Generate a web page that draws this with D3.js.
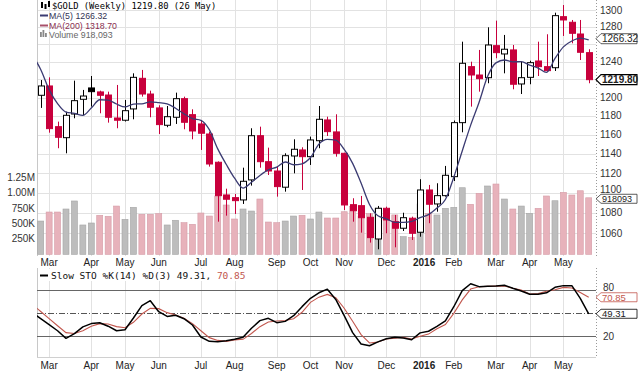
<!DOCTYPE html>
<html><head><meta charset="utf-8">
<script src="https://cdn.jsdelivr.net/npm/d3@7"></script>
<style>body{margin:0;background:#fff}svg{display:block}</style>
</head><body><svg id="c" width="640" height="373"></svg>
<script>
// ---------------- DATA ----------------
const firstWeek = "2015-02-23", lastWeek = "2016-05-23";
const opens  = [1202.5,1212.8,1168.5,1156.8,1182.1,1198.1,1210.6,1206.2,1202.8,1177.8,1175.4,1187.6,1221.3,1203.9,1188.7,1170.0,1178.6,1198.8,1181.4,1171.4,1160.7,1131.1,1097.8,1095.1,1092.8,1113.0,1158.9,1131.7,1122.1,1105.6,1137.6,1143.9,1136.9,1153.6,1175.7,1162.9,1140.4,1088.1,1087.1,1075.6,1054.5,1084.5,1071.3,1064.9,1074.7,1061.0,1102.8,1088.8,1097.1,1116.3,1172.8,1234.4,1225.0,1222.0,1258.3,1248.8,1253.4,1215.0,1222.4,1240.8,1234.4,1233.2,1292.1,1285.5,1271.8,1250.3];
const highs  = [1219.4,1222.4,1173.9,1184.6,1218.7,1208.4,1223.9,1207.6,1206.5,1213.9,1197.4,1226.9,1230.7,1207.6,1191.6,1190.8,1205.4,1201.0,1187.2,1175.7,1163.2,1132.0,1104.1,1098.8,1125.5,1166.8,1168.5,1146.3,1126.6,1140.4,1155.1,1146.7,1157.9,1190.8,1179.2,1181.8,1141.0,1094.5,1096.8,1079.5,1086.8,1086.1,1077.9,1080.1,1076.2,1113.7,1107.9,1109.6,1127.3,1175.1,1262.9,1240.0,1253.4,1279.6,1287.4,1270.7,1259.1,1240.0,1241.1,1262.9,1271.5,1296.8,1305.9,1288.2,1288.2,1254.2];
const lows   = [1188.7,1162.1,1145.7,1140.4,1177.5,1181.0,1190.1,1182.9,1172.8,1166.8,1174.0,1176.4,1201.0,1178.6,1160.7,1167.9,1171.4,1165.7,1155.1,1143.9,1126.6,1071.3,1077.2,1078.9,1088.8,1107.2,1125.5,1118.0,1096.1,1101.1,1119.7,1102.8,1128.3,1145.7,1158.6,1136.9,1082.8,1071.3,1060.6,1051.0,1044.6,1060.0,1046.5,1062.2,1053.5,1056.7,1069.8,1081.1,1096.1,1111.9,1162.5,1190.1,1206.5,1215.8,1243.9,1226.9,1209.1,1203.9,1214.7,1223.9,1228.7,1229.5,1269.5,1261.0,1241.9,1215.8];
const closes = [1212.8,1166.4,1157.2,1180.7,1196.6,1201.7,1206.5,1202.5,1178.6,1175.4,1185.7,1222.4,1203.9,1189.4,1170.7,1179.2,1198.8,1173.2,1163.9,1161.5,1129.3,1097.1,1093.5,1092.1,1111.6,1158.9,1131.7,1122.1,1106.2,1137.9,1144.6,1136.9,1154.4,1176.4,1163.2,1140.4,1087.8,1082.1,1075.2,1055.8,1084.5,1073.0,1064.9,1075.2,1060.0,1102.8,1088.5,1097.1,1117.7,1172.8,1238.2,1225.0,1220.9,1259.1,1250.3,1254.2,1214.7,1222.0,1238.9,1234.4,1229.9,1293.3,1288.2,1272.6,1250.7,1219.8];
const priorCloses = [1294.0,1279.0,1234.0,1227.0,1203.6]; // 5 weeks before the first bar
const volumes = [541,687,687,736,866,477,509,634,618,784,569,763,650,650,660,477,553,514,488,671,622,947,801,574,736,703,898,525,514,541,622,634,574,687,590,590,692,780,620,660,750,720,640,287,277,817,666,639,747,763,1081,812,990,1109,1141,898,736,784,666,747,947,870,1006,963,1032,918]; // thousands
const stochK = [43,35.2,27.2,17.3,23.4,32.3,36.5,37.7,33.1,27.2,28.5,43.8,59.9,66.4,52,45.9,47.3,42.9,34.7,19,13.4,13,14,16,18.6,30.4,40.4,43.4,37.7,39.4,46.8,58.6,69.5,76.7,81.4,68,46.8,24.7,10,7.7,12.7,16.8,18.6,17.7,15.4,24.4,26.5,32.8,40.1,58.5,79.4,88.5,84.7,85.1,85.5,86.5,82.5,79,74.7,74.9,76.6,83.8,86,86,69.5,49.31];
const stochD = [52.3,42.9,33.7,24.7,23.6,27.1,33.1,36.5,35.9,32.6,31.1,38.2,49,56.4,56,50.8,47.6,43.5,36.5,27.2,18.2,14.6,13.4,15.3,16,23.6,32.5,38.6,39.8,40.5,42.8,51.3,64.2,71,74.5,70.2,56.5,39.6,22.1,11.3,12.5,16.4,17.6,18.5,16.5,20,22.8,29.9,35.3,49.8,67.4,81.5,84.6,85,85.4,85.5,82.6,80.3,75.1,75.6,78.7,80.7,83.7,83,77,70.85];
const stochKPrior = 50.7, stochDPrior = 61.6;
const monthTickDates  = ["2015-03-02","2015-04-06","2015-05-04","2015-06-01","2015-07-06","2015-08-03","2015-09-07","2015-10-05","2015-11-02","2015-12-07","2016-01-04","2016-02-01","2016-03-07","2016-04-04","2016-05-02"];
const monthTickLabels = ["Mar","Apr","May","Jun","Jul","Aug","Sep","Oct","Nov","Dec","2016","Feb","Mar","Apr","May"];
const priceTicks = [1060,1080,1100,1120,1140,1160,1180,1200,1220,1240,1260,1280,1300];
const volTicks = [250,500,750,1000,1250];
const volTickLabels = ["250K","500K","750K","1.00M","1.25M"];
const stochLevels = [20,50,80];
const lastClose = 1219.80, lastMA5 = 1266.32, lastVol = 918093, lastK = 49.31, lastD = 70.85;

// ---------------- LAYOUT ----------------
const svg = d3.select("#c");
const plotL = 37, plotR = 596, mainTop = 0, mainBot = 256, lowTop = 268, lowBot = 357;
const RED = "#c8003c", BLK = "#000";
const parse = d3.timeParse("%Y-%m-%d");
const weeks = d3.timeMonday.range(parse(firstWeek), d3.timeDay.offset(parse(lastWeek),1));
const x = d3.scaleTime().domain([weeks[0], weeks[weeks.length-1]]).range([40.7, 588.7]);
const yP = d3.scaleLog().domain([1060,1300]).range([233.28,10]);
const yV = d3.scaleLinear().domain([0,1250]).range([254.4,177.3]);
const yS = d3.scaleLinear().domain([0,100]).range([351.6,274.9]);
const monthDates = monthTickDates.map(parse);

const defs = svg.append("defs");
defs.append("clipPath").attr("id","cm").append("rect").attr("x",plotL).attr("y",mainTop).attr("width",plotR-plotL).attr("height",mainBot-mainTop);
defs.append("clipPath").attr("id","cl").append("rect").attr("x",plotL).attr("y",lowTop).attr("width",plotR-plotL).attr("height",lowBot-lowTop);

// grids main
const gm = svg.append("g");
gm.selectAll("line.h").data(priceTicks).join("line")
  .attr("x1",plotL).attr("x2",plotR).attr("y1",d=>Math.round(yP(d))+0.5).attr("y2",d=>Math.round(yP(d))+0.5)
  .attr("stroke","#e2e2e2");
gm.selectAll("line.v").data(monthDates).join("line")
  .attr("x1",d=>Math.round(x(d))+0.5).attr("x2",d=>Math.round(x(d))+0.5).attr("y1",mainTop).attr("y2",mainBot)
  .attr("stroke","#e2e2e2");
// grids low
const gl = svg.append("g");
gl.selectAll("line").data(monthDates).join("line")
  .attr("x1",d=>Math.round(x(d))+0.5).attr("x2",d=>Math.round(x(d))+0.5).attr("y1",lowTop).attr("y2",lowBot)
  .attr("stroke","#e2e2e2");
// borders
[[mainTop,mainBot],[lowTop,lowBot]].forEach(([t,b])=>{
  svg.append("line").attr("x1",plotL+0.5).attr("x2",plotL+0.5).attr("y1",t).attr("y2",b).attr("stroke","#c8c8c8");
  svg.append("line").attr("x1",plotR+0.5).attr("x2",plotR+0.5).attr("y1",t).attr("y2",b).attr("stroke","#999").attr("stroke-dasharray","1,2");
});
svg.append("line").attr("x1",plotL).attr("x2",plotR).attr("y1",lowBot+0.5).attr("y2",lowBot+0.5).attr("stroke","#d0d0d0");

// candle colours
const prev = i => i===0 ? priorCloses[priorCloses.length-1] : closes[i-1];
const bars = weeks.map((w,i)=>({w,i,o:opens[i],h:highs[i],l:lows[i],c:closes[i],v:volumes[i],
  red: closes[i] < prev(i), filled: closes[i] < opens[i]}));

// volume
const main = svg.append("g").attr("clip-path","url(#cm)");
main.selectAll("rect.vol").data(bars).join("rect")
  .attr("x",d=>x(d.w)-3).attr("width",6)
  .attr("y",d=>yV(d.v)).attr("height",d=>yV(0)-yV(d.v))
  .attr("fill",d=>d.red?"#e7b2bb":"#bdbdbd")
  .attr("stroke",d=>d.red?"#d69ca7":"#a5a5a5").attr("stroke-width",0.6);

// candles
main.selectAll("line.wick").data(bars).join("line")
  .attr("x1",d=>Math.round(x(d.w))+0.5).attr("x2",d=>Math.round(x(d.w))+0.5)
  .attr("y1",d=>yP(d.h)).attr("y2",d=>yP(d.l))
  .attr("stroke",d=>d.red?RED:BLK).attr("stroke-width",1);
main.selectAll("rect.body").data(bars).join("rect")
  .attr("x",d=>Math.round(x(d.w))-2.5).attr("width",6)
  .attr("y",d=>yP(Math.max(d.o,d.c))).attr("height",d=>Math.max(1,Math.abs(yP(d.o)-yP(d.c))))
  .attr("fill",d=>d.filled?(d.red?RED:BLK):"#fff")
  .attr("stroke",d=>d.red?RED:BLK).attr("stroke-width",1);

// MA(5)
const allCloses = priorCloses.concat(closes);
const maPts = [];
for(let j=4;j<allCloses.length;j++){
  const i = j - priorCloses.length; // bar index (-1 .. 65)
  maPts.push({w: d3.timeWeek.offset(weeks[0], i), v: d3.mean(allCloses.slice(j-4,j+1))});
}
main.append("path").datum(maPts)
  .attr("d", d3.line().x(d=>x(d.w)).y(d=>yP(d.v)).curve(d3.curveMonotoneX))
  .attr("fill","none").attr("stroke","#3b3b72").attr("stroke-width",1.3);

// Stochastics
const low = svg.append("g").attr("clip-path","url(#cl)");
stochLevels.forEach(lv=>{
  low.append("line").attr("x1",plotL).attr("x2",plotR).attr("y1",Math.round(yS(lv))+0.5).attr("y2",Math.round(yS(lv))+0.5)
    .attr("stroke", lv===50?"#555":"#666").attr("stroke-width",1)
    .attr("stroke-dasharray", lv===50?"6,2,1,2":null);
});
const prevWeek = d3.timeWeek.offset(weeks[0],-1);
const kPts = [{w:prevWeek,v:stochKPrior}].concat(weeks.map((w,i)=>({w,v:stochK[i]})));
const dPts = [{w:prevWeek,v:stochDPrior}].concat(weeks.map((w,i)=>({w,v:stochD[i]})));
const sl = d3.line().x(d=>x(d.w)).y(d=>yS(d.v)).curve(d3.curveLinear);
low.append("path").datum(dPts).attr("d",sl).attr("fill","none").attr("stroke","#c2574e").attr("stroke-width",1.1);
low.append("path").datum(kPts).attr("d",sl).attr("fill","none").attr("stroke","#000").attr("stroke-width",1.5).attr("stroke-linejoin","round");

// ---------------- TEXT ----------------
const SANS = "'Liberation Sans', Arial, sans-serif";
const MONO = "'DejaVu Sans Mono', 'Liberation Mono', monospace";
const tagYs = [yP(lastMA5), yP(lastClose)];
// right price labels (those hidden under a value tag are not drawn)
svg.append("g").selectAll("text").data(priceTicks.filter(t=>tagYs.every(ty=>Math.abs(yP(t)-ty)>=6))).join("text")
  .attr("x",600).attr("y",d=>yP(d)-(d===1100?3:0)).attr("dy","0.35em")
  .attr("font-family",SANS).attr("font-size",10).attr("fill","#333").text(d=>d);
// left volume labels
svg.append("g").selectAll("text").data(volTicks).join("text")
  .attr("x",35).attr("y",d=>yV(d)).attr("dy","0.35em").attr("text-anchor","end")
  .attr("font-family",SANS).attr("font-size",10).attr("fill","#333").text((d,i)=>volTickLabels[i]);
// stoch labels
svg.append("g").selectAll("text").data([20,80]).join("text")
  .attr("x",603).attr("y",d=>yS(d)-(d===80?3:0)).attr("dy","0.35em")
  .attr("font-family",SANS).attr("font-size",10).attr("fill","#333").text(d=>d);
// month labels
[262,365].forEach(yy=>{
  svg.append("g").selectAll("text").data(monthDates).join("text")
    .attr("x",(d,i)=>x(d)+(monthTickLabels[i]==="2016"?4:0)).attr("y",yy).attr("dy","0.35em").attr("text-anchor","middle")
    .attr("font-family",SANS).attr("font-size",10)
    .attr("font-weight",(d,i)=>monthTickLabels[i]==="2016"?"bold":"normal")
    .attr("fill","#222").text((d,i)=>monthTickLabels[i]);
});

// value tags
function tag(yy, txt, opts={}){
  const g = svg.append("g");
  const h = opts.h||5;
  g.append("path").attr("d",`M${plotR},${yy} L${plotR+5},${yy-h} L637,${yy-h} L637,${yy+h} L${plotR+5},${yy+h} Z`)
    .attr("fill","#fff").attr("stroke",opts.stroke||"#333").attr("stroke-width",opts.sw||0.8);
  g.append("text").attr("x",602).attr("y",yy).attr("dy","0.36em")
    .attr("font-family",SANS).attr("font-size",opts.fs||10).attr("font-weight",opts.bold?"bold":"normal")
    .attr("fill",opts.color||"#222").text(txt);
}
tag(yP(lastMA5), d3.format(".2f")(lastMA5));
tag(yP(lastClose), d3.format(".2f")(lastClose), {bold:true, stroke:"#000", sw:1.1});
tag(yV(lastVol/1000)+1, String(lastVol), {fs:9, h:4.5});
tag(yS(lastD), d3.format(".2f")(lastD), {color:"#c2574e", stroke:"#c2574e", fs:9.5, h:4.5});
tag(yS(lastK), d3.format(".2f")(lastK), {stroke:"#000", fs:9.5, h:4.5});

// top legend
const lg = svg.append("g");
lg.append("rect").attr("x",41).attr("y",2).attr("width",2).attr("height",6).attr("fill","#000");
lg.append("rect").attr("x",44.5).attr("y",4).attr("width",2).attr("height",5).attr("fill","#000");
lg.append("rect").attr("x",48).attr("y",1).attr("width",2).attr("height",6).attr("fill","#000");
lg.append("text").attr("x",52).attr("y",9).attr("font-family",MONO).attr("font-size",8.8).attr("fill","#000")
  .text(`$GOLD (Weekly) ${d3.format(".2f")(lastClose)} (26 May)`);
lg.append("line").attr("x1",40).attr("x2",48).attr("y1",15.5).attr("y2",15.5).attr("stroke","#3b3b72").attr("stroke-width",2);
lg.append("text").attr("x",49).attr("y",19).attr("font-family",SANS).attr("font-size",8.8).attr("fill","#333355")
  .text(`MA(5) ${d3.format(".2f")(lastMA5)}`);
lg.append("line").attr("x1",40).attr("x2",48).attr("y1",25.5).attr("y2",25.5).attr("stroke","#a8506a").attr("stroke-width",2);
lg.append("text").attr("x",49).attr("y",28.5).attr("font-family",SANS).attr("font-size",8.8).attr("fill","#8a3050")
  .text("MA(200) 1318.70");
[[40,32,5],[42.5,30,7],[45,33,4]].forEach(([bx,by,bh])=>lg.append("rect").attr("x",bx).attr("y",by).attr("width",1.8).attr("height",bh).attr("fill","#888"));
lg.append("text").attr("x",49).attr("y",38).attr("font-family",SANS).attr("font-size",8.8).attr("fill","#666")
  .text(`Volume ${d3.format(",")(lastVol)}`);

// lower legend
const ll = svg.append("g");
ll.append("rect").attr("x",38).attr("y",269).attr("width",214).attr("height",12).attr("fill","#fff");
ll.append("line").attr("x1",40).attr("x2",48).attr("y1",275.5).attr("y2",275.5).attr("stroke","#000").attr("stroke-width",2);
const lt = ll.append("text").attr("x",51).attr("y",279).attr("font-family",MONO).attr("font-size",9.5).attr("fill","#111");
lt.append("tspan").text(`Slow STO %K(14) %D(3) ${d3.format(".2f")(lastK)}, `);
lt.append("tspan").attr("fill","#c2574e").text(d3.format(".2f")(lastD));
</script></body></html>
